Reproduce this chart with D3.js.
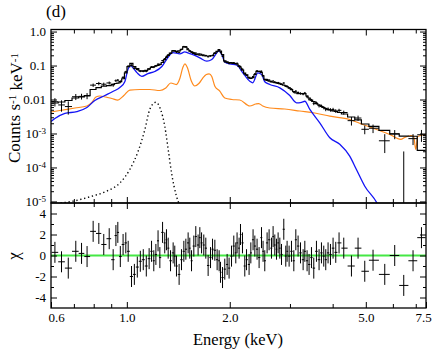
<!DOCTYPE html>
<html>
<head>
<meta charset="utf-8">
<script src="https://d3js.org/d3.v7.min.js"></script>
<style>
  body { margin:0; background:#fff; }
  svg { display:block; font-family:"Liberation Serif","DejaVu Serif",serif; }
  .tick text { font-size:13px; fill:#000; font-family:"Liberation Serif",serif; }
  .domain { display:none; }
  .tick line { stroke:#000; stroke-width:1; }
</style>
</head>
<body>
<script>
var width = 436, height = 352;
var left = 51, right = 426, top1 = 29.5, mid = 203, bottom = 308;

// spectral bins (keV), folded total model (counts/s/keV), relative error of data, residuals (chi)
var energy = [0.616,0.644,0.674,0.709,0.737,0.765,0.797,0.828,0.856,0.888,0.912,0.929,0.941,0.957,0.975,0.993,1.009,1.032,1.052,1.073,1.095,1.117,1.140,1.162,
  1.181,1.199,1.216,1.234,1.249,1.272,1.291,1.306,1.321,1.342,1.366,1.381,1.397,1.422,1.445,1.468,1.488,1.511,1.528,1.546,
  1.570,1.591,1.616,1.635,1.654,1.679,1.702,1.729,1.757,1.781,1.809,1.837,1.862,1.879,1.905,1.934,1.965,1.991,2.024,2.055,
  2.083,2.101,2.130,2.150,2.179,2.213,2.239,2.278,2.305,2.340,2.368,2.404,2.437,2.477,2.503,2.532,2.572,2.607,2.649,2.678,
  2.709,2.740,2.770,2.802,2.834,2.878,2.917,2.943,2.983,3.031,3.079,3.121,3.169,3.221,3.278,3.316,3.367,3.412,3.468,3.522,
  3.586,3.650,3.709,3.767,3.818,3.878,3.941,4.011,4.084,4.176,4.310,
  4.539,4.746,4.965,5.250,5.681,6.075,6.456,6.873,7.274];

var model = [0.00789,0.00844,0.00935,0.0111,0.0119,0.0131,0.0197,0.0225,0.0248,0.0258,0.028,0.0296,0.0304,0.0338,0.0409,0.0606,0.0935,0.116,0.0935,0.0817,0.0703,0.0694,0.0722,0.080,
  0.0885,0.0922,0.0974,0.101,0.108,0.123,0.150,0.173,0.200,0.233,0.269,0.271,0.260,0.269,0.302,0.355,0.348,0.292,0.264,0.251,
  0.229,0.213,0.208,0.202,0.201,0.194,0.191,0.191,0.194,0.194,0.229,0.262,0.296,0.265,0.211,0.138,0.128,0.123,0.120,0.116,
  0.113,0.110,0.0947,0.0856,0.0737,0.0597,0.0529,0.0447,0.0415,0.0441,0.0544,0.0675,0.0675,0.0627,0.0498,0.0395,0.0367,0.0348,0.0330,0.0322,
  0.0314,0.0306,0.0298,0.0290,0.0280,0.0266,0.0250,0.0238,0.0220,0.0196,0.0172,0.0157,0.0150,0.0148,0.0150,0.0150,0.0127,0.0111,0.00966,0.00873,
  0.00762,0.00689,0.00622,0.00582,0.00544,0.00508,0.00491,0.00466,0.00444,0.00415,0.00375,
  0.00306,0.0025,0.0019,0.00161,0.00123,0.00097,0.00084,0.00083,0.00032];

var relErr = [0.30,0.30,0.28,0.22,0.20,0.20,0.15,0.15,0.13,0.12,0.11,0.11,0.10,0.10,0.09,0.07,0.06,0.06,0.06,0.06,0.06,0.06,0.06,0.06,
  0.06,0.06,0.06,0.06,0.06,0.06,0.05,0.05,0.05,0.05,0.05,0.05,0.05,0.05,0.05,0.05,0.05,0.05,0.05,0.05,
  0.05,0.05,0.05,0.05,0.05,0.05,0.05,0.05,0.05,0.05,0.05,0.05,0.05,0.05,0.05,0.05,0.05,0.05,0.05,0.05,
  0.05,0.05,0.05,0.05,0.05,0.05,0.05,0.05,0.05,0.05,0.05,0.05,0.05,0.05,0.05,0.05,0.05,0.05,0.05,0.05,
  0.05,0.05,0.05,0.05,0.06,0.06,0.06,0.07,0.07,0.07,0.07,0.08,0.08,0.08,0.08,0.08,0.09,0.09,0.10,0.10,
  0.10,0.11,0.11,0.11,0.12,0.12,0.12,0.13,0.13,0.13,0.15,
  0.22,0.20,0.20,0.25,0.28,0.30,0.35,0.30,1.10];

var chi = [0.3,-0.6,-1.2,0.4,0.2,-0.1,2.3,2.1,1.05,1.6,-0.4,1.9,2.2,-0.1,1.05,1.2,0.4,-2.0,-1.8,-1.1,-0.55,-0.4,-1.0,-0.3,
  0.4,-0.5,0.1,1.4,-0.2,2.2,1.2,1.5,0.7,-0.5,0.25,-0.06,-1.0,-1.8,-0.4,0.4,0.6,1.2,0.7,-0.5,
  0.9,1.8,1.0,1.7,1.2,1.0,0.7,-0.95,-0.2,0.6,0.5,-0.4,-0.5,-1.6,-2.1,-1.3,-0.85,-1.2,-0.06,0.9,
  0.25,1.2,0.7,2.0,1.2,-1.0,-0.4,-0.85,0.25,1.5,0.9,0.6,-0.2,1.7,0.4,-0.5,1.2,1.5,0.7,1.8,
  1.0,0.6,1.2,0.7,0.1,2.5,-0.06,0.4,-0.06,0.4,-0.5,1.5,0.9,0.25,-0.4,0.4,-0.5,-0.85,-0.2,-1.2,
  0.4,-0.4,0.25,-0.06,-0.4,0.25,0.1,0.7,0.3,1.2,0.7,
  -1.0,0.7,-1.5,-0.45,-1.8,0.0,-2.85,-0.5,1.7];

// model components
var blueE = [0.600,0.616,0.659,0.714,0.764,0.806,0.862,0.910,0.954,0.987,1.007,1.027,1.041,1.070,1.106,1.152,1.207,1.266,1.318,1.363,
  1.429,1.478,1.507,1.560,1.635,1.714,1.772,1.833,1.858,1.895,1.934,2.000,2.097,2.184,2.289,2.335,2.416,2.481,2.532,2.619,
  2.802,2.997,3.135,3.243,3.316,3.430,3.667,3.924,4.196,4.487,4.694,4.966,5.380,5.500];
var blueF = [0.00225,0.00276,0.0039,0.0044,0.0058,0.0094,0.0131,0.0172,0.0225,0.034,0.076,0.100,0.087,0.062,0.048,0.058,0.0667,0.0935,0.172,0.241,
  0.221,0.253,0.236,0.211,0.168,0.134,0.150,0.236,0.276,0.211,0.128,0.112,0.102,0.061,0.0345,0.031,0.061,0.054,0.0332,0.0276,
  0.0221,0.0131,0.008,0.0083,0.0089,0.0051,0.00206,0.00075,0.00048,0.000215,0.000087,0.000028,0.0000093,0.000006];

var orangeE = [0.600,0.637,0.705,0.764,0.790,0.812,0.834,0.868,0.904,0.941,0.980,1.020,1.091,1.167,1.249,1.300,1.345,1.395,1.429,1.458,
  1.478,1.503,1.544,1.580,1.624,1.668,1.708,1.740,1.772,1.809,1.870,1.934,2.028,2.140,2.289,2.383,2.432,2.498,2.619,2.897,
  3.205,3.546,3.924,4.487,4.898,5.380,5.875,6.327,6.501,6.767,6.905,6.998,7.094,7.500];
var orangeF = [0.00429,0.00475,0.00562,0.00644,0.00816,0.01185,0.01268,0.01185,0.0107,0.00966,0.0131,0.0190,0.0197,0.0197,0.0184,0.0218,0.0306,0.0276,0.0415,0.0873,
  0.112,0.0873,0.035,0.025,0.0296,0.0429,0.0544,0.057,0.0475,0.0246,0.0176,0.0111,0.0100,0.00966,0.00644,0.00738,0.00762,0.00644,0.00562,0.00526,
  0.00459,0.00401,0.00323,0.00258,0.00184,0.00131,0.000935,0.000667,0.000763,0.000873,0.000817,0.000338,0.000817,0.000935];

var lineE = [0.640,0.697,0.779,0.872,0.954,1.020,1.079,1.129,1.167,1.216,1.255,1.291,1.321,1.351,1.397,1.413,1.430];
var lineF = [0.000009,0.0000102,0.0000137,0.00002,0.000035,0.000087,0.0003,0.0013,0.0051,0.0083,0.0051,0.00164,0.00034,0.00007,0.0000143,0.00001,0.000008];

// axis ticks
var xLabels = [0.6, 1, 2, 5, 7.5];
var xMajor = [1, 2, 5];
var xMinor = [0.7, 0.8, 0.9, 3, 4, 6, 7];
var yMajor = [1, 0.1, 0.01, 1e-3, 1e-4, 1e-5];
var yMinorMult = [2, 3, 4, 5, 6, 7, 8, 9];
var rMajor = [-4, -2, 0, 2, 4];
var rMinor = [-3, -1, 1, 3];

var svg = d3.select('body').append('svg').attr('width', width).attr('height', height);

var x = d3.scaleLog().domain([0.6, 7.5]).range([left, right]);
var y = d3.scaleLog().domain([9e-6, 1.15]).range([mid, top1]);
var yr = d3.scaleLinear().domain([-5, 5]).range([bottom, mid]);

var defs = svg.append('defs');
defs.append('clipPath').attr('id', 'clipTop').append('rect')
    .attr('x', left).attr('y', top1).attr('width', right - left).attr('height', mid - top1);
defs.append('clipPath').attr('id', 'clipBot').append('rect')
    .attr('x', left).attr('y', mid).attr('width', right - left).attr('height', bottom - mid);

// bin edges halfway (in log) between neighbouring bins
var n = energy.length;
var bins = energy.map(function(e, i) {
  var lo = i > 0 ? Math.sqrt(energy[i-1] * e) : e * e / Math.sqrt(e * energy[1]);
  var hi = i < n - 1 ? Math.sqrt(e * energy[i+1]) : e * e / Math.sqrt(energy[i-1] * e);
  var sig = relErr[i] * model[i];
  var val = model[i] + chi[i] * sig;
  return {e:e, lo:lo, hi:hi, m:model[i], val:val, sig:sig, chi:chi[i]};
});

var yMin = y.domain()[0] * 0.5;
function yc(v) { return y(Math.max(v, yMin)); }

var topG = svg.append('g').attr('clip-path', 'url(#clipTop)');
var line = d3.line().x(function(d){ return x(d[0]); }).y(function(d){ return yc(d[1]); }).curve(d3.curveMonotoneX);

topG.append('path')
   .attr('d', line(d3.zip(orangeE, orangeF)))
   .attr('fill', 'none').attr('stroke', '#ff8a1c').attr('stroke-width', 1.2);
topG.append('path')
   .attr('d', line(d3.zip(blueE, blueF)))
   .attr('fill', 'none').attr('stroke', '#1414f5').attr('stroke-width', 1.3);
topG.append('path')
   .attr('d', line(d3.zip(lineE, lineF)))
   .attr('fill', 'none').attr('stroke', '#000').attr('stroke-width', 1.4)
   .attr('stroke-dasharray', '1.3,2.7');

// total model as histogram steps
var steps = [];
bins.forEach(function(b) { steps.push([b.lo, b.m]); steps.push([b.hi, b.m]); });
topG.append('path')
   .attr('d', d3.line().x(function(d){ return x(d[0]); }).y(function(d){ return yc(d[1]); })(steps))
   .attr('fill', 'none').attr('stroke', '#000').attr('stroke-width', 1.2);

// data crosses
var pts = topG.selectAll('.pt').data(bins).enter().append('g').attr('class', 'pt')
   .attr('stroke', '#000').attr('stroke-width', 1);
pts.append('line')
   .attr('x1', function(d){ return x(d.lo); }).attr('x2', function(d){ return x(d.hi); })
   .attr('y1', function(d){ return yc(d.val); }).attr('y2', function(d){ return yc(d.val); });
pts.append('line')
   .attr('x1', function(d){ return x(d.e); }).attr('x2', function(d){ return x(d.e); })
   .attr('y1', function(d){ return yc(d.val - d.sig); }).attr('y2', function(d){ return yc(d.val + d.sig); });

// residual panel
var botG = svg.append('g').attr('clip-path', 'url(#clipBot)');
botG.append('line')
   .attr('x1', left).attr('x2', right).attr('y1', yr(0)).attr('y2', yr(0))
   .attr('stroke', '#45e845').attr('stroke-width', 2);
var res = botG.selectAll('.res').data(bins).enter().append('g').attr('class', 'res')
   .attr('stroke', '#000').attr('stroke-width', 1);
res.append('line')
   .attr('x1', function(d){ return x(d.lo); }).attr('x2', function(d){ return x(d.hi); })
   .attr('y1', function(d){ return yr(d.chi); }).attr('y2', function(d){ return yr(d.chi); });
res.append('line')
   .attr('x1', function(d){ return x(d.e); }).attr('x2', function(d){ return x(d.e); })
   .attr('y1', function(d){ return yr(d.chi - 1); }).attr('y2', function(d){ return yr(d.chi + 1); });

// frames
svg.append('rect').attr('x', left).attr('y', top1).attr('width', right - left).attr('height', mid - top1)
   .attr('fill', 'none').attr('stroke', '#000').attr('stroke-width', 1.3);
svg.append('rect').attr('x', left).attr('y', mid).attr('width', right - left).attr('height', bottom - mid)
   .attr('fill', 'none').attr('stroke', '#000').attr('stroke-width', 1.3);

function ticks(axis, pos, values, size) {
  svg.append('g').attr('transform', pos)
     .call(axis.tickValues(values).tickSize(size).tickFormat(''));
}

// x axes
ticks(d3.axisTop(x), 'translate(0,' + top1 + ')', xMajor, -6);
ticks(d3.axisTop(x), 'translate(0,' + top1 + ')', xMinor, -4);
ticks(d3.axisBottom(x), 'translate(0,' + mid + ')', xMajor, -6);
ticks(d3.axisBottom(x), 'translate(0,' + mid + ')', xMinor, -4);
ticks(d3.axisTop(x), 'translate(0,' + mid + ')', xMajor, -6);
ticks(d3.axisTop(x), 'translate(0,' + mid + ')', xMinor, -4);
ticks(d3.axisBottom(x), 'translate(0,' + bottom + ')', xMinor, -4);

var xa = svg.append('g').attr('transform', 'translate(0,' + bottom + ')')
   .call(d3.axisBottom(x).tickValues(xLabels).tickSize(-6).tickPadding(5)
   .tickFormat(function(d){ return d.toFixed(1); }));
xa.selectAll('.tick text').attr('dx', function(d){ return d === 0.6 ? 5 : (d === 7.5 ? -3 : 0); });

// y axes, top panel
var yMinor = [];
yMajor.forEach(function(v) {
  yMinorMult.forEach(function(m) { if (v * m < 1.15 && v * m > 9e-6) yMinor.push(v * m); });
});
ticks(d3.axisRight(y), 'translate(' + right + ',0)', yMajor, -6);
ticks(d3.axisRight(y), 'translate(' + right + ',0)', yMinor, -3);
ticks(d3.axisLeft(y), 'translate(' + left + ',0)', yMinor, -3);

var ya = svg.append('g').attr('transform', 'translate(' + left + ',0)')
   .call(d3.axisLeft(y).tickValues(yMajor).tickSize(-6).tickPadding(5).tickFormat(''));
ya.selectAll('.tick text').each(function(d) {
  var t = d3.select(this);
  if (d >= 0.01) {
    t.text(d === 1 ? '1.0' : String(d));
  } else {
    t.append('tspan').text('10');
    t.append('tspan').attr('dy', '-0.45em').attr('font-size', '9px').text(String(Math.round(Math.log10(d))));
  }
});

// y axes, residual panel
ticks(d3.axisLeft(yr), 'translate(' + left + ',0)', rMinor, -3);
ticks(d3.axisRight(yr), 'translate(' + right + ',0)', rMinor, -3);
ticks(d3.axisRight(yr), 'translate(' + right + ',0)', rMajor, -6);
svg.append('g').attr('transform', 'translate(' + left + ',0)')
   .call(d3.axisLeft(yr).tickValues(rMajor).tickSize(-6).tickPadding(5)
   .tickFormat(function(d){ return String(d); }));

// titles
svg.append('text').attr('x', 56).attr('y', 17).attr('text-anchor', 'middle')
   .attr('font-size', '17px').text('(d)');
svg.append('text').attr('x', 238).attr('y', 345).attr('text-anchor', 'middle')
   .attr('font-size', '16.5px').text('Energy (keV)');
var yt = svg.append('text').attr('transform', 'translate(20,108) rotate(-90)')
   .attr('text-anchor', 'middle').attr('font-size', '17px');
yt.append('tspan').text('Counts s');
yt.append('tspan').attr('dy', '-0.4em').attr('font-size', '11px').text('-1');
yt.append('tspan').attr('dy', '0.4em').text(' keV');
yt.append('tspan').attr('dy', '-0.4em').attr('font-size', '11px').text('-1');
svg.append('text').attr('transform', 'translate(19,256) rotate(-90)')
   .attr('text-anchor', 'middle').attr('font-size', '17px').text('\u03c7');
</script>
</body>
</html>
